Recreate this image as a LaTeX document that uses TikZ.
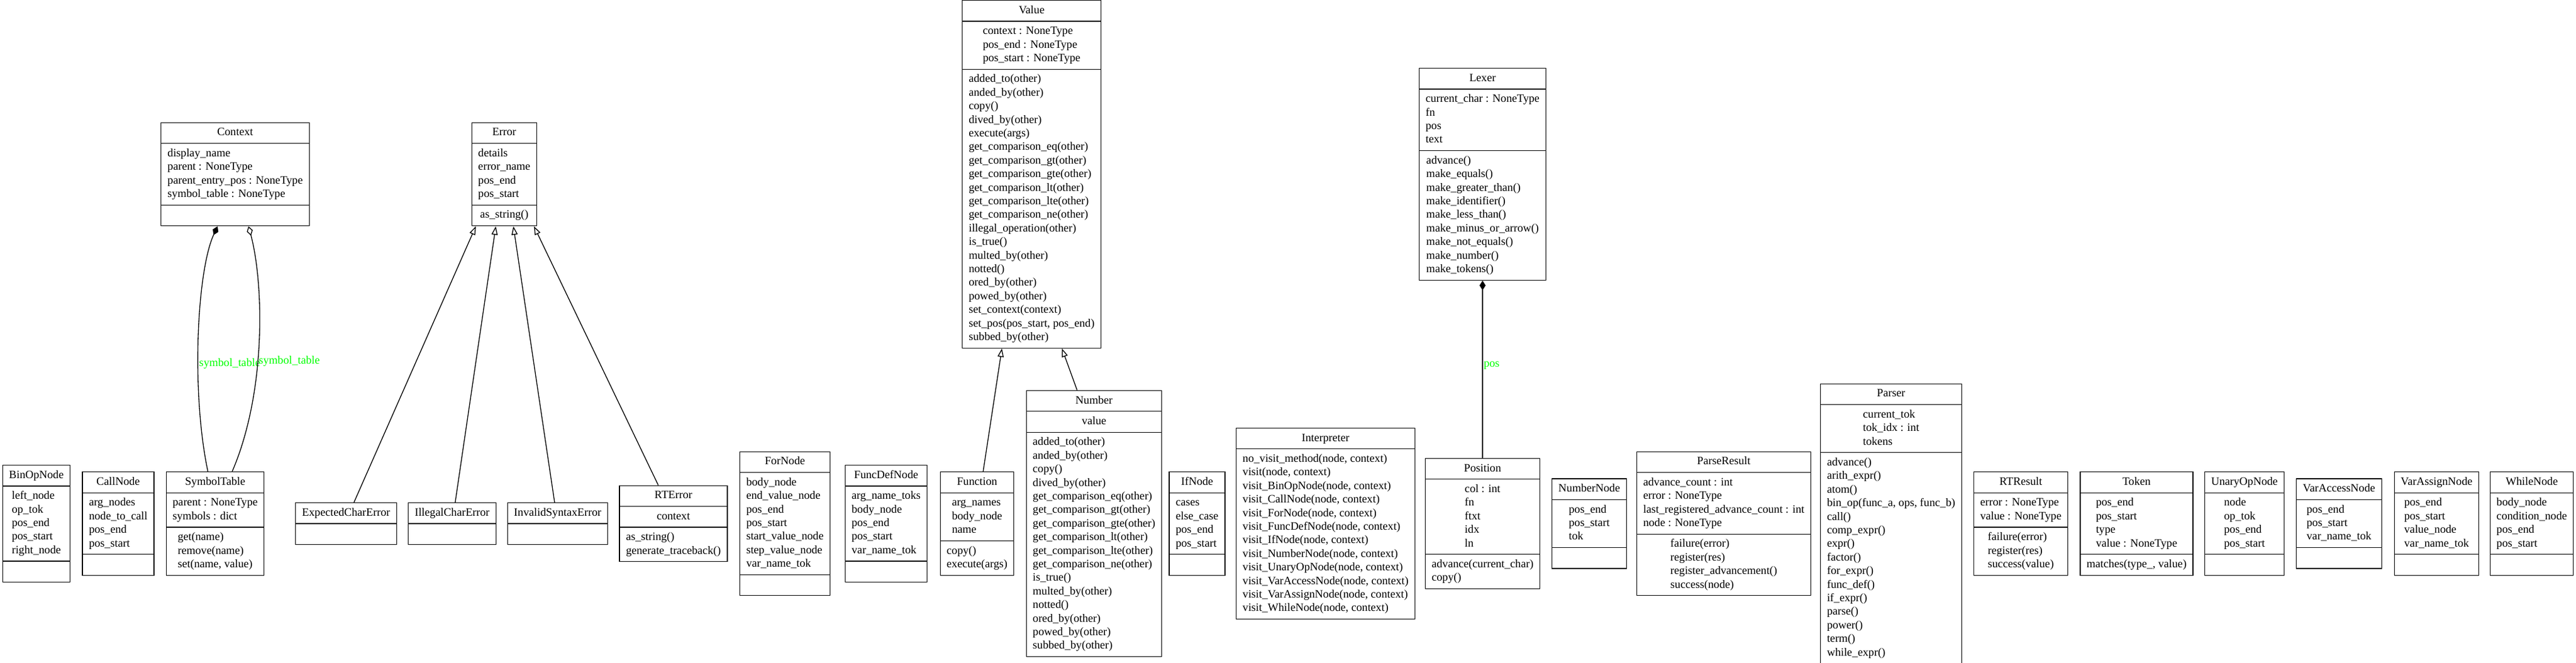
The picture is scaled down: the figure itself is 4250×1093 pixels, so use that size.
\documentclass[tikz,border=0pt]{standalone}
\usepackage{fontspec}
\setmainfont{Liberation Serif}
\usepackage{tikz}
\usetikzlibrary{shapes.multipart}
\usetikzlibrary{arrows.meta}
\usetikzlibrary{calc,backgrounds}
\definecolor{green1} {RGB} {0, 255, 0}
\newcommand{\umlsec}[1]{\begin{tabular}{@{}l@{}}\strut#1\end{tabular}}
\tikzstyle{uml}=[
  x=0.75pt, y=-0.75pt, line width=1pt, font=\fontsize{14}{16.8}\selectfont
]
\tikzstyle{umlclass}=[
  draw, rectangle split, inner xsep=8pt, inner ysep=4pt
]
\tikzstyle{uml2class}=[
  umlclass, rectangle split parts=2
]
\tikzstyle{uml3class}=[
  umlclass, rectangle split parts=3
]
\tikzstyle{umledge}=[
  line width=1pt
]
\tikzstyle{umlinherit}=[
  umledge, -{Triangle[open, length=10.5pt, width=7.5pt]}
]
\tikzstyle{umlcomp}=[
  umledge, {Diamond[length=12pt, width=7.5pt]}-
]
\tikzstyle{umlaggr}=[
  umledge, {Diamond[open, length=12pt, width=7.5pt]}-
]
\tikzstyle{umllabel}=[
  text=green1, inner sep=1pt, anchor=west
]
\begin{document}
\begin{tikzpicture}[uml]
\useasboundingbox (0, 0) rectangle (4250, 1093);
% top rank
\node (context) [uml3class] at (388, 287.5)
{\umlsec{Context}\nodepart{two}\umlsec{display\_name\\parent : NoneType\\parent\_entry\_pos : NoneType\\symbol\_table : NoneType}\nodepart{three}\umlsec{}};
\node (error) [uml3class] at (832, 287.5)
{\umlsec{Error}\nodepart{two}\umlsec{details\\error\_name\\pos\_end\\pos\_start}\nodepart{three}\umlsec{as\_string()}};
\node (value) [uml3class] at (1702, 287.5)
{\umlsec{Value}\nodepart{two}\umlsec{context : NoneType\\pos\_end : NoneType\\pos\_start : NoneType}\nodepart{three}\umlsec{added\_to(other)\\anded\_by(other)\\copy()\\dived\_by(other)\\execute(args)\\get\_comparison\_eq(other)\\get\_comparison\_gt(other)\\get\_comparison\_gte(other)\\get\_comparison\_lt(other)\\get\_comparison\_lte(other)\\get\_comparison\_ne(other)\\illegal\_operation(other)\\is\_true()\\multed\_by(other)\\notted()\\ored\_by(other)\\powed\_by(other)\\set\_context(context)\\set\_pos(pos\_start, pos\_end)\\subbed\_by(other)}};
\node (lexer) [uml3class] at (2446, 287.5)
{\umlsec{Lexer}\nodepart{two}\umlsec{current\_char : NoneType\\fn\\pos\\text}\nodepart{three}\umlsec{advance()\\make\_equals()\\make\_greater\_than()\\make\_identifier()\\make\_less\_than()\\make\_minus\_or\_arrow()\\make\_not\_equals()\\make\_number()\\make\_tokens()}};

% bottom rank
\node (binop) [uml3class] at (60, 864)
{\umlsec{BinOpNode}\nodepart{two}\umlsec{left\_node\\op\_tok\\pos\_end\\pos\_start\\right\_node}\nodepart{three}\umlsec{}};
\node (call) [uml3class] at ($(binop) + (135, 0)$)
{\umlsec{CallNode}\nodepart{two}\umlsec{arg\_nodes\\node\_to\_call\\pos\_end\\pos\_start}\nodepart{three}\umlsec{}};
\node (symtab) [uml3class] at ($(call) + (160, 0)$)
{\umlsec{SymbolTable}\nodepart{two}\umlsec{parent : NoneType\\symbols : dict}\nodepart{three}\umlsec{get(name)\\remove(name)\\set(name, value)}};
\node (expchar) [uml2class] at ($(symtab) + (216, 0)$)
{\umlsec{ExpectedCharError}\nodepart{two}\umlsec{}};
\node (illchar) [uml2class] at ($(expchar) + (175, 0)$)
{\umlsec{IllegalCharError}\nodepart{two}\umlsec{}};
\node (invsyn) [uml2class] at ($(illchar) + (174, 0)$)
{\umlsec{InvalidSyntaxError}\nodepart{two}\umlsec{}};
\node (rterror) [uml3class] at ($(invsyn) + (191, 0)$)
{\umlsec{RTError}\nodepart{two}\umlsec{context}\nodepart{three}\umlsec{as\_string()\\generate\_traceback()}};
\node (for) [uml3class] at ($(rterror) + (184, 0)$)
{\umlsec{ForNode}\nodepart{two}\umlsec{body\_node\\end\_value\_node\\pos\_end\\pos\_start\\start\_value\_node\\step\_value\_node\\var\_name\_tok}\nodepart{three}\umlsec{}};
\node (funcdef) [uml3class] at ($(for) + (167, 0)$)
{\umlsec{FuncDefNode}\nodepart{two}\umlsec{arg\_name\_toks\\body\_node\\pos\_end\\pos\_start\\var\_name\_tok}\nodepart{three}\umlsec{}};
\node (function) [uml3class] at ($(funcdef) + (150, 0)$)
{\umlsec{Function}\nodepart{two}\umlsec{arg\_names\\body\_node\\name}\nodepart{three}\umlsec{copy()\\execute(args)}};
\node (number) [uml3class] at ($(function) + (193, 0)$)
{\umlsec{Number}\nodepart{two}\umlsec{value}\nodepart{three}\umlsec{added\_to(other)\\anded\_by(other)\\copy()\\dived\_by(other)\\get\_comparison\_eq(other)\\get\_comparison\_gt(other)\\get\_comparison\_gte(other)\\get\_comparison\_lt(other)\\get\_comparison\_lte(other)\\get\_comparison\_ne(other)\\is\_true()\\multed\_by(other)\\notted()\\ored\_by(other)\\powed\_by(other)\\subbed\_by(other)}};
\node (if) [uml3class] at ($(number) + (170, 0)$)
{\umlsec{IfNode}\nodepart{two}\umlsec{cases\\else\_case\\pos\_end\\pos\_start}\nodepart{three}\umlsec{}};
\node (interp) [uml2class] at ($(if) + (212, 0)$)
{\umlsec{Interpreter}\nodepart{two}\umlsec{no\_visit\_method(node, context)\\visit(node, context)\\visit\_BinOpNode(node, context)\\visit\_CallNode(node, context)\\visit\_ForNode(node, context)\\visit\_FuncDefNode(node, context)\\visit\_IfNode(node, context)\\visit\_NumberNode(node, context)\\visit\_UnaryOpNode(node, context)\\visit\_VarAccessNode(node, context)\\visit\_VarAssignNode(node, context)\\visit\_WhileNode(node, context)}};
\node (position) [uml3class] at ($(interp) + (259, 0)$)
{\umlsec{Position}\nodepart{two}\umlsec{col : int\\fn\\ftxt\\idx\\ln}\nodepart{three}\umlsec{advance(current\_char)\\copy()}};
\node (numnode) [uml3class] at ($(position) + (176, 0)$)
{\umlsec{NumberNode}\nodepart{two}\umlsec{pos\_end\\pos\_start\\tok}\nodepart{three}\umlsec{}};
\node (parseres) [uml3class] at ($(numnode) + (222, 0)$)
{\umlsec{ParseResult}\nodepart{two}\umlsec{advance\_count : int\\error : NoneType\\last\_registered\_advance\_count : int\\node : NoneType}\nodepart{three}\umlsec{failure(error)\\register(res)\\register\_advancement()\\success(node)}};
\node (parser) [uml3class] at ($(parseres) + (276, 0)$)
{\umlsec{Parser}\nodepart{two}\umlsec{current\_tok\\tok\_idx : int\\tokens}\nodepart{three}\umlsec{advance()\\arith\_expr()\\atom()\\bin\_op(func\_a, ops, func\_b)\\call()\\comp\_expr()\\expr()\\factor()\\for\_expr()\\func\_def()\\if\_expr()\\parse()\\power()\\term()\\while\_expr()}};
\node (rtresult) [uml3class] at ($(parser) + (214, 0)$)
{\umlsec{RTResult}\nodepart{two}\umlsec{error : NoneType\\value : NoneType}\nodepart{three}\umlsec{failure(error)\\register(res)\\success(value)}};
\node (token) [uml3class] at ($(rtresult) + (191, 0)$)
{\umlsec{Token}\nodepart{two}\umlsec{pos\_end\\pos\_start\\type\\value : NoneType}\nodepart{three}\umlsec{matches(type\_, value)}};
\node (unary) [uml3class] at ($(token) + (178, 0)$)
{\umlsec{UnaryOpNode}\nodepart{two}\umlsec{node\\op\_tok\\pos\_end\\pos\_start}\nodepart{three}\umlsec{}};
\node (varaccess) [uml3class] at ($(unary) + (156, 0)$)
{\umlsec{VarAccessNode}\nodepart{two}\umlsec{pos\_end\\pos\_start\\var\_name\_tok}\nodepart{three}\umlsec{}};
\node (varassign) [uml3class] at ($(varaccess) + (161, 0)$)
{\umlsec{VarAssignNode}\nodepart{two}\umlsec{pos\_end\\pos\_start\\value\_node\\var\_name\_tok}\nodepart{three}\umlsec{}};
\node (while) [uml3class] at ($(varassign) + (157, 0)$)
{\umlsec{WhileNode}\nodepart{two}\umlsec{body\_node\\condition\_node\\pos\_end\\pos\_start}\nodepart{three}\umlsec{}};

\begin{scope}[on background layer]
\draw [umlcomp] ($(context.south) + (-29, 0)$) .. controls +(-34, 73) and +(-28, -132) .. ($(symtab.north) + (-12, 0)$)
    node[pos=0.6, umllabel] {symbol\_table};
\draw [umlaggr] ($(context.south) + (22, 0)$) .. controls +(25, 93) and +(57, -132) .. ($(symtab.north) + (28, 0)$)
    node[pos=0.58, umllabel] {symbol\_table};
\draw [umlinherit] ($(expchar.north) + (13, 0)$) -- ($(error.south) + (-47, 0)$);
\draw [umlinherit] ($(illchar.north) + (5, 0)$) -- ($(error.south) + (-14, 0)$);
\draw [umlinherit] ($(invsyn.north) + (-5, 0)$) -- ($(error.south) + (15, 0)$);
\draw [umlinherit] ($(rterror.north) + (-25, 0)$) -- ($(error.south) + (49, 0)$);
\draw [umlinherit] ($(function.north) + (10, 0)$) -- ($(value.south) + (-49, 0)$);
\draw [umlinherit] ($(number.north) + (-28, 0)$) -- ($(value.south) + (50, 0)$);
\draw [umlcomp] (lexer.south) -- (position.north)
    node[pos=0.48, umllabel] {pos};
\end{scope}
\end{tikzpicture}
\end{document}
